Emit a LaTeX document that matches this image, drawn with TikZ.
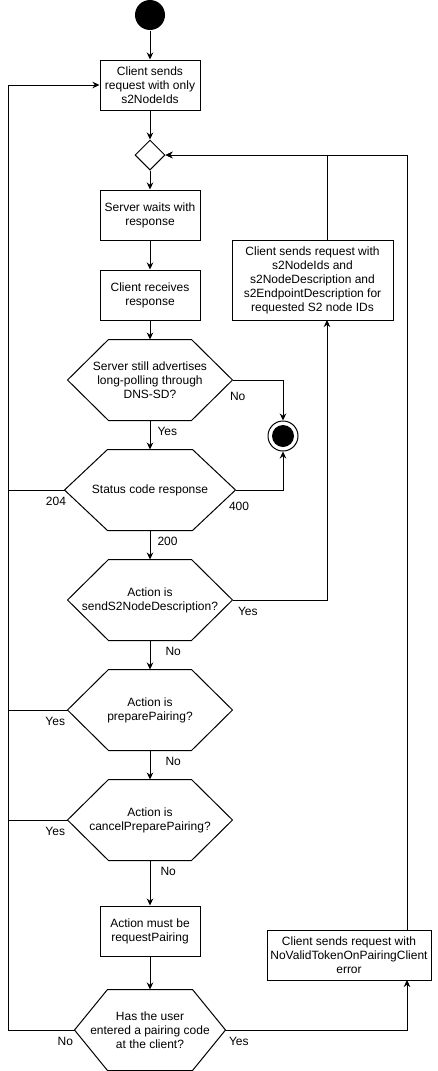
\documentclass[tikz,border=0pt]{standalone}
\usepackage{fontspec}
\setmainfont{Liberation Sans}
\usetikzlibrary{shapes.geometric,arrows.meta}

% zeshoek om een (onzichtbare) node
\newcommand{\hexframe}[2]{%
  \draw (#1.west) -- ([xshift=#2]#1.north west) -- ([xshift=-#2]#1.north east)
    -- (#1.east) -- ([xshift=-#2]#1.south east) -- ([xshift=#2]#1.south west) -- cycle;}

\begin{document}
\begin{tikzpicture}[x=1pt, y=-1pt, line width=1pt, >={Stealth[length=7pt,width=6.5pt]},
    every node/.style={font=\fontsize{12}{14}\selectfont},
    actbox/.style={draw, align=center, minimum width=100pt, minimum height=50pt, inner sep=2pt},
    choice/.style={align=center, minimum width=164pt, minimum height=80pt, inner sep=1pt},
    lblR/.style={anchor=west, inner sep=0pt},
    lblL/.style={anchor=east, inner sep=0pt}]
      \useasboundingbox (0,0) rectangle (438,1071);

      % Vaste maten
      \def\rail{8}
      \def\loopA{327}
      \def\loopB{407}

      % Begin en einde
      \node[circle, fill, minimum size=30pt, inner sep=0pt] (start) at (150,15) {};
      \node[circle, draw, minimum size=30pt, inner sep=0pt] (stop) at (283,436) {};
      \fill (stop) circle (11);

      % Linker kolom
      \node[actbox] (sendids) at (150,85) {Client sends\\request with only\\s2NodeIds};
      \node[draw, diamond, aspect=1, minimum width=30pt, minimum height=30pt, inner sep=0pt] (merge) at (150,155) {};
      \node[actbox] (wait) at (150,215) {Server waits with\\response};
      \node[actbox] (receive) at (150,295) {Client receives\\response};
      \node[choice] (dnssd) at (150,380) {Server still advertises\\long-polling through\\DNS-SD?};
      \node[choice, minimum width=170pt] (status) at (150,490) {Status code response};
      \node[choice] (isdesc) at (150,600) {Action is\\sendS2NodeDescription?};
      \node[choice] (isprep) at (150,710) {Action is\\preparePairing?};
      \node[choice] (iscancel) at (150,820) {Action is\\cancelPreparePairing?};
      \node[actbox] (mustreq) at (150,931) {Action must be\\requestPairing};
      \node[choice, minimum width=150pt] (hascode) at (150,1030) {Has the user\\entered a pairing code\\at the client?};

      \hexframe{dnssd}{41pt}
      \hexframe{status}{43pt}
      \hexframe{isdesc}{41pt}
      \hexframe{isprep}{41pt}
      \hexframe{iscancel}{41pt}
      \hexframe{hascode}{33pt}

      % Rechter kolom
      \node[actbox, minimum width=161pt, minimum height=80pt] (senddesc) at (312.5,280)
        {Client sends request with\\s2NodeIds and\\s2NodeDescription and\\s2EndpointDescription for\\requested S2 node IDs};
      \node[actbox, minimum width=164pt] (sendtoken) at (349,955)
        {Client sends request with\\NoValidTokenOnPairingClient\\error};

      % Hulppunten
      \coordinate (back) at (\rail,85);
      \coordinate (descin) at (\loopA,320);
      \coordinate (descout) at (\loopA,240);
      \coordinate (tokenin) at (\loopB,980);
      \coordinate (tokenout) at (\loopB,930);

      % Hoofdlijn
      \draw[->] (start) -- (sendids);
      \draw[->] (sendids) -- (merge);
      \draw[->] (merge) -- (wait);
      \draw[->] (wait) -- (receive);
      \draw[->] (receive) -- (dnssd);
      \draw[->] (dnssd) -- (status) node[lblR, pos=0.37, xshift=7pt] {Yes};
      \draw[->] (status) -- (isdesc) node[lblR, pos=0.37, xshift=7pt] {200};
      \draw[->] (isdesc) -- (isprep) node[lblR, pos=0.37, xshift=15pt] {No};
      \draw[->] (isprep) -- (iscancel) node[lblR, pos=0.37, xshift=15pt] {No};
      \draw[->] (iscancel) -- (mustreq) node[lblR, pos=0.24, xshift=10pt] {No};
      \draw[->] (mustreq) -- (hascode);

      % Naar het einde
      \draw[->] (dnssd.east) -| (stop.north) node[lblR, pos=0, xshift=-3pt, yshift=-16pt] {No};
      \draw[->] (status.east) -| (stop.south) node[lblR, pos=0, xshift=-7pt, yshift=-16pt] {400};

      % Terug naar het begin
      \draw[->] (status.west) -| (back) -- (sendids.west);
      \node[lblL] (l204) at ([xshift=2pt, yshift=-11pt]status.west) {204};
      \draw (isprep.west) -- (isprep.west -| back) node[lblL, pos=0, xshift=-2pt, yshift=-11pt] {Yes};
      \draw (iscancel.west) -- (iscancel.west -| back) node[lblL, pos=0, xshift=-2pt, yshift=-11pt] {Yes};
      \draw (hascode.west) -| (back) node[lblL, pos=0, xshift=-1pt, yshift=-11pt] {No};

      % Lussen rechts
      \draw[->] (isdesc.east) -| (descin) node[lblR, pos=0, xshift=5pt, yshift=-11pt] {Yes};
      \draw[->] (descout) |- (merge.east);
      \draw[->] (hascode.east) -| (tokenin) node[lblR, pos=0, xshift=3pt, yshift=-11pt] {Yes};
      \draw[->] (tokenout) |- (merge.east);
    \end{tikzpicture}
\end{document}
